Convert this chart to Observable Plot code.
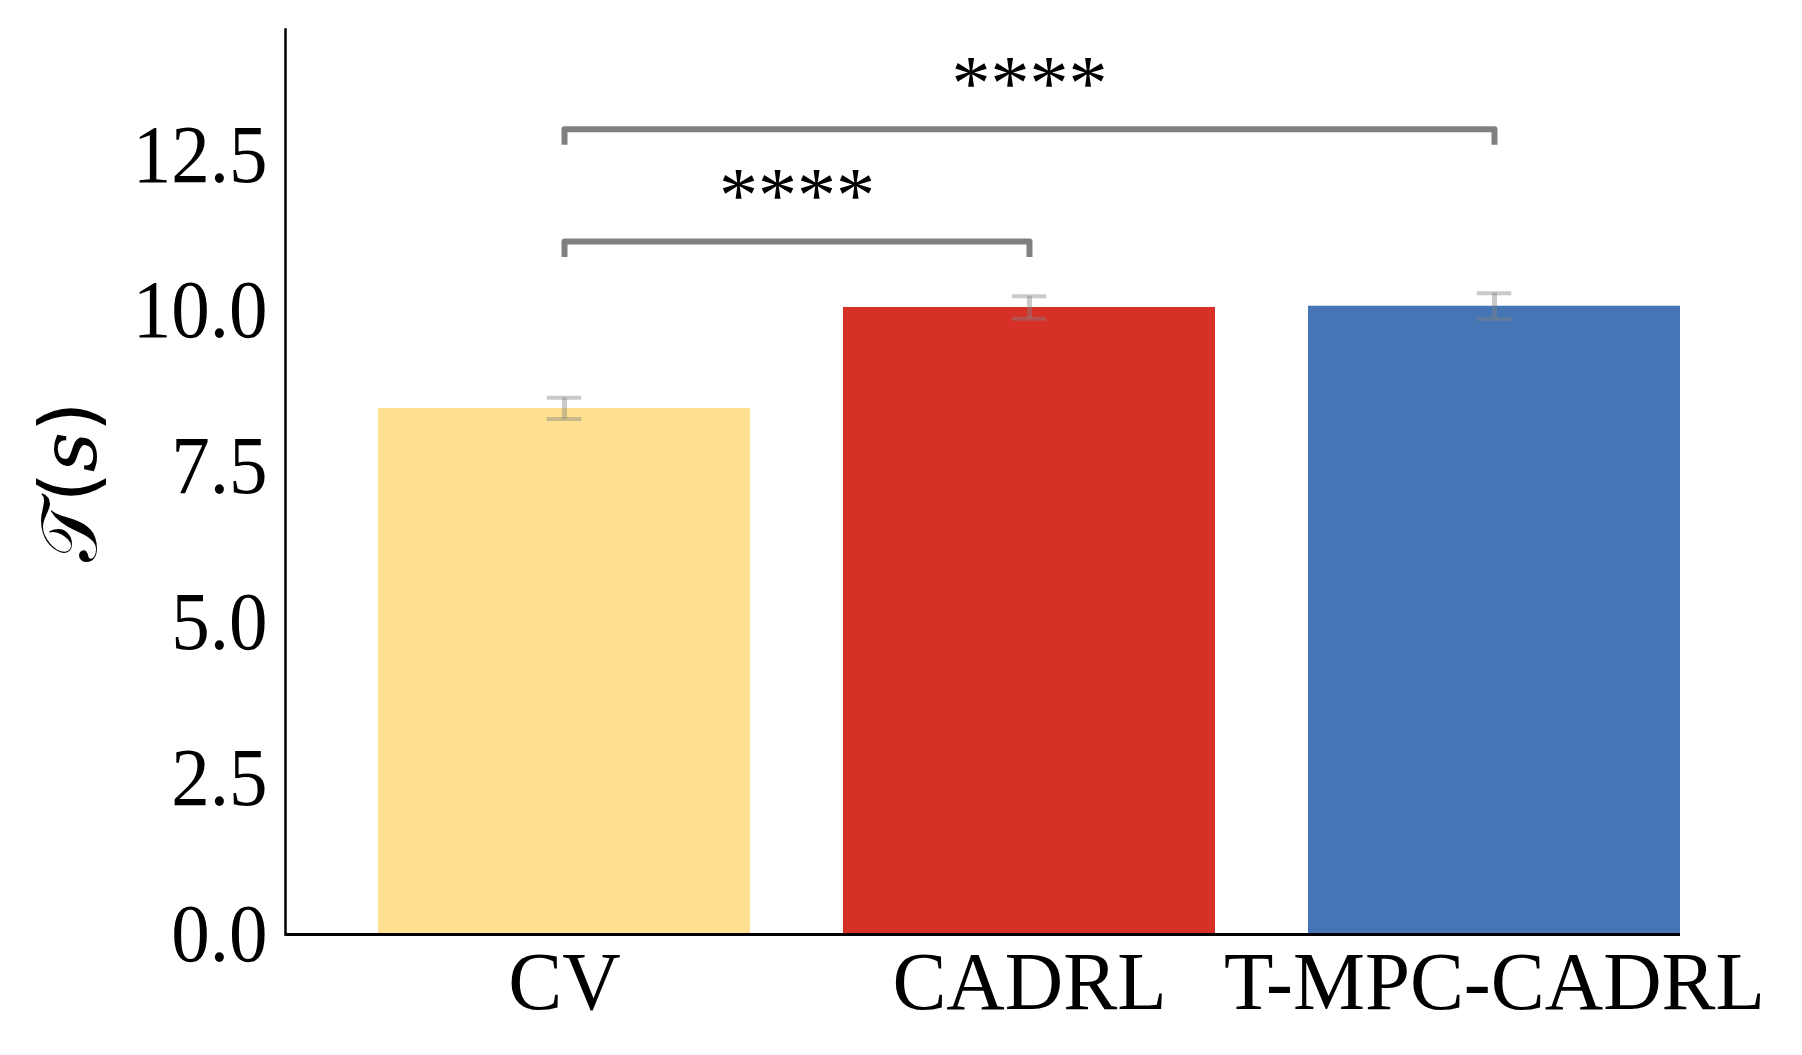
<!DOCTYPE html>
<html>
<head>
<meta charset="utf-8">
<script src="https://cdn.jsdelivr.net/npm/d3@7"></script>
<script src="https://cdn.jsdelivr.net/npm/@observablehq/plot@0.6"></script>
<style>
  html, body { margin: 0; padding: 0; background: #ffffff; }
  #chart svg { display: block; }
</style>
</head>
<body>
<div id="chart"></div>
<script>
// ---- data ----
const categories = ["CV", "CADRL", "T-MPC-CADRL"];
const means = [8.44, 10.06, 10.08];
const errors = [0.17, 0.18, 0.21];
const barColors = ["#fee090", "#d73027", "#4575b4"];
const yTicks = [0, 2.5, 5, 7.5, 10, 12.5];
const yLabel = "𝒯(𝑠)";

// significance brackets
const sigFrom = ["CV", "CV"];
const sigTo = ["CADRL", "T-MPC-CADRL"];
const sigY = [11.12, 12.92];
const sigLabels = ["****", "****"];
const sigDrop = 0.25;

// ---- derived tables ----
const bars = categories.map((c, i) => ({i, cat: c, mean: means[i], lo: means[i] - errors[i], hi: means[i] + errors[i]}));
const barHalf = 0.4;
const capHalf = 0.037;
const idx = c => categories.indexOf(c);
const bracketPts = [];
const sigText = [];
sigFrom.forEach((f, k) => {
  const a = idx(f), b = idx(sigTo[k]), y = sigY[k];
  bracketPts.push({id: k, x: a, y: y - sigDrop}, {id: k, x: a, y}, {id: k, x: b, y}, {id: k, x: b, y: y - sigDrop});
  sigText.push({x: (a + b) / 2, y, label: sigLabels[k]});
});

const grey = "#808080";

const chart = Plot.plot({
  width: 1802,
  height: 1055,
  marginLeft: 285,
  marginRight: 122,
  marginTop: 29,
  marginBottom: 121,
  style: {fontFamily: "'Liberation Serif', 'Times New Roman', serif", background: "#ffffff", color: "#000000", overflow: "visible"},
  x: {domain: [-0.6, 2.4]},
  y: {domain: [0, 14.52]},
  marks: [
    Plot.rectY(bars, {x1: d => d.i - barHalf, x2: d => d.i + barHalf, y: "mean", fill: (d) => barColors[d.i]}),
    Plot.ruleX(bars, {x: "i", y1: "lo", y2: "hi", stroke: grey, strokeOpacity: 0.42, strokeWidth: 5}),
    Plot.ruleY(bars, {x1: d => d.i - capHalf, x2: d => d.i + capHalf, y: "lo", stroke: grey, strokeOpacity: 0.42, strokeWidth: 4}),
    Plot.ruleY(bars, {x1: d => d.i - capHalf, x2: d => d.i + capHalf, y: "hi", stroke: grey, strokeOpacity: 0.42, strokeWidth: 4}),
    Plot.line(bracketPts, {x: "x", y: "y", z: "id", stroke: grey, strokeWidth: 6, strokeLinejoin: "round", strokeLinecap: "butt"}),
    Plot.text(sigText, {x: "x", y: "y", text: "label", fontSize: 78, dy: -45, lineAnchor: "middle", fill: "#000"}),
    Plot.ruleY([0], {stroke: "#000", strokeWidth: 3}),
    Plot.frame({anchor: "left", stroke: "#000", strokeWidth: 2.5}),
    Plot.axisY({ticks: yTicks, tickFormat: d3.format(".1f"), tickSize: 0, tickPadding: 18, fontSize: 82, label: null}),
    Plot.axisX({ticks: [0, 1, 2], tickFormat: i => categories[i], tickSize: 0, tickPadding: 16, fontSize: 83, label: null}),
    Plot.text([yLabel], {frameAnchor: "left", dx: -214, rotate: -90, textAnchor: "middle", text: d => d, fontSize: 78, fontFamily: "'DejaVu Sans', 'DejaVu Serif', sans-serif", fill: "#000"})
  ]
});
document.getElementById("chart").appendChild(chart);

// slightly condensed glyphs, as in the reference
function squeeze(label, k) {
  d3.select(chart).selectAll(`g[aria-label="${label}"] text`).each(function () {
    const t = this.getAttribute("transform") || "";
    this.setAttribute("transform", `${t} scale(${k},1)`);
  });
}
squeeze("y-axis tick label", 0.94);
squeeze("x-axis tick label", 0.975);
</script>
</body>
</html>
